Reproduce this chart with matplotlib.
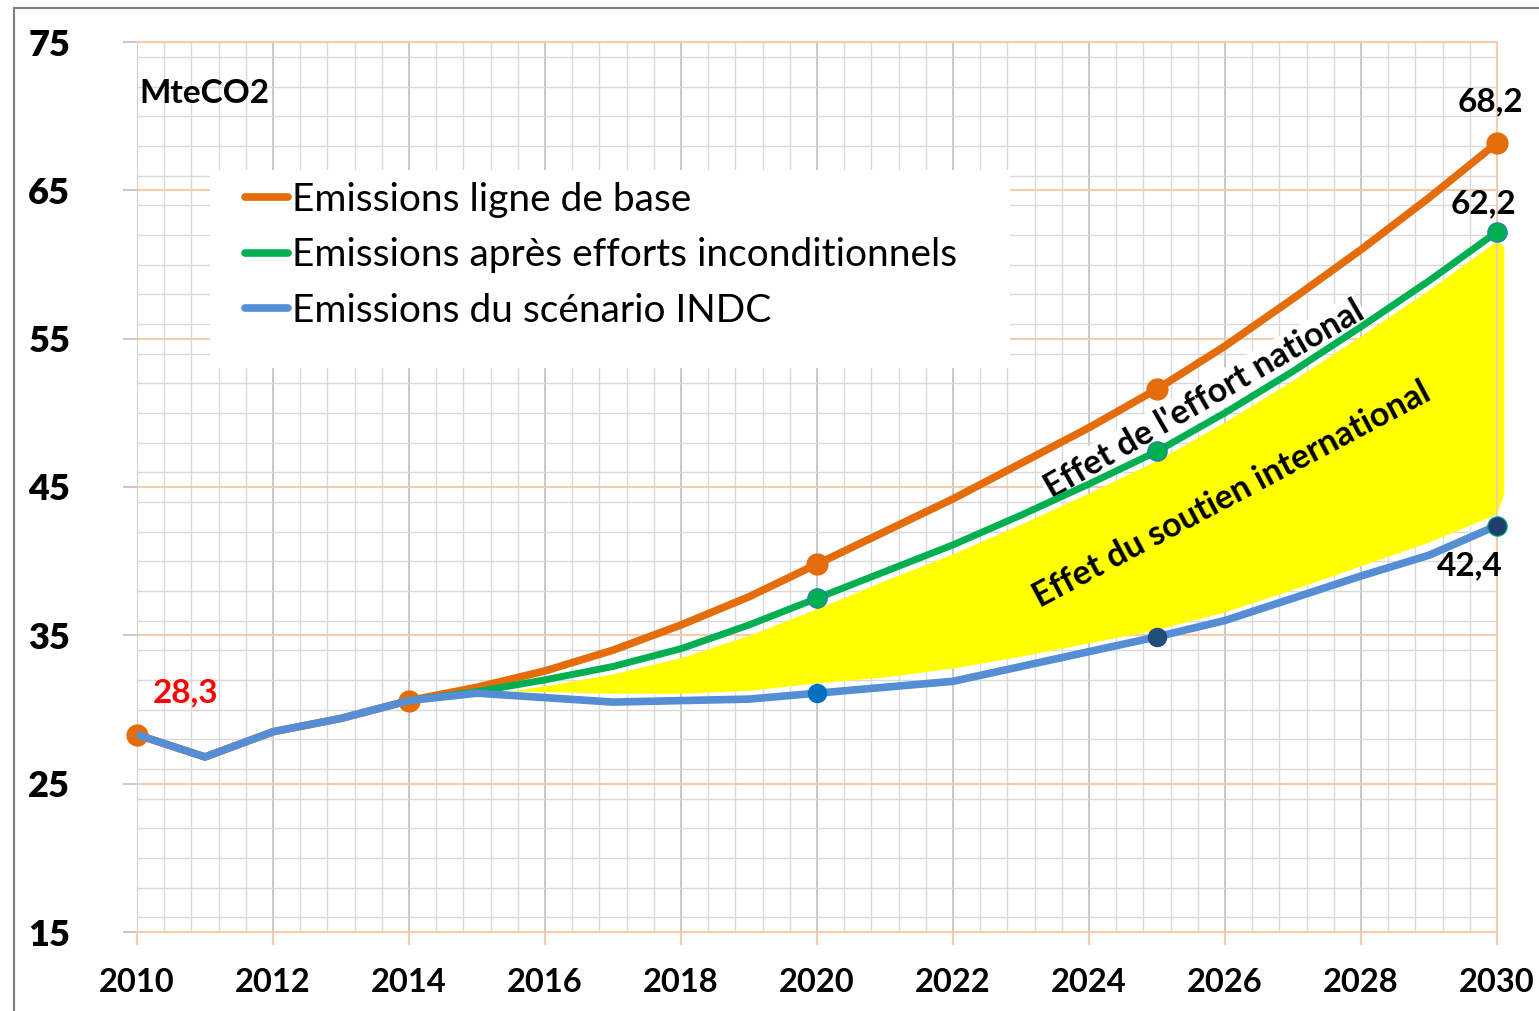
import numpy as np
import matplotlib.pyplot as plt
from matplotlib.lines import Line2D
from matplotlib.patches import Rectangle
from matplotlib.ticker import MultipleLocator

plt.rcParams['font.family'] = ['Lato', 'DejaVu Sans']
plt.rcParams['font.weight'] = 'bold'

# historical + INDC scenario (blue)
indc_years = np.arange(2010, 2031)
indc = [28.3, 26.8, 28.5, 29.4, 30.6, 31.1, 30.8, 30.5, 30.6, 30.7, 31.1,
        31.5, 31.9, 32.9, 33.9, 34.9, 36.0, 37.5, 39.0, 40.4, 42.4]

# baseline (orange) and unconditional (green), from 2014
proj_years = np.arange(2014, 2031)
base = [30.6, 31.5, 32.6, 34.0, 35.7, 37.6, 39.8, 42.0, 44.2, 46.6, 49.0,
        51.6, 54.5, 57.7, 61.0, 64.5, 68.2]
uncond = [30.6, 31.2, 32.0, 32.9, 34.1, 35.7, 37.5, 39.3, 41.1, 43.1, 45.2,
          47.4, 50.0, 52.8, 55.8, 58.9, 62.2]

# yellow area (international support)
fill_years = [2014, 2015, 2016, 2017, 2018, 2019, 2020, 2021, 2022, 2023, 2024,
              2025, 2026, 2027, 2028, 2029, 2030, 2030.1]
fill_top = [30.6, 30.9, 31.6, 32.4, 33.5, 35.0, 36.8, 38.7, 40.5, 42.5, 44.6,
            46.8, 49.4, 52.2, 55.2, 58.3, 61.6, 61.2]
fill_bot = [30.6, 31.3, 31.2, 31.1, 31.1, 31.3, 31.8, 32.2, 32.8, 33.6, 34.5,
            35.4, 36.6, 38.1, 39.7, 41.3, 43.2, 44.6]

base_hist = [28.3, 26.8, 28.5, 29.4]  # baseline before 2014 (under the blue line)

labels = ['Emissions ligne de base', 'Emissions après efforts inconditionnels',
          'Emissions du scénario INDC']

ORANGE = '#E46C0A'
GREEN = '#00B050'
BLUE = '#558ED5'
GRID_OR = '#F8CBAD'

fig = plt.figure(figsize=(15.39, 10.11), dpi=100)
ax = fig.add_axes([137/1539, 79/1011, 1360/1539, 890/1011])

ax.set_xlim(2010, 2030)
ax.set_ylim(15, 75)

ax.xaxis.set_major_locator(MultipleLocator(2))
ax.xaxis.set_minor_locator(MultipleLocator(0.4))
ax.yaxis.set_minor_locator(MultipleLocator(2))
ax.set_yticks(np.arange(15, 76, 10))

ax.grid(which='minor', color='#D9D9D9', lw=1.0)
ax.grid(which='major', axis='x', color='#BFBFBF', lw=1.2)
ax.grid(which='major', axis='y', color=GRID_OR, lw=1.5)
ax.set_axisbelow(True)

for s in ['top', 'right', 'bottom']:
    ax.spines[s].set_color(GRID_OR)
    ax.spines[s].set_linewidth(1.5)
ax.spines['left'].set_color('#D0D0D0')

ax.tick_params(axis='x', which='major', length=9, color=GRID_OR, width=1.5,
               pad=17, labelsize=23.5)
ax.tick_params(axis='y', which='major', length=10, color='#BFBFBF', width=1.2,
               pad=38, labelsize=26)
ax.tick_params(which='minor', length=0)

# yellow zone
ax.fill_between(fill_years, fill_bot, fill_top, color='#FFFF00', lw=0, zorder=2,
                clip_on=False)

# baseline
ax.plot(list(indc_years[:4]) + list(proj_years), base_hist + base, color=ORANGE,
        lw=5.5, solid_capstyle='round', solid_joinstyle='round', zorder=3)
ax.plot([2010, 2014, 2020, 2025, 2030], [28.3, base[0], base[6], base[11], base[16]],
        'o', color=ORANGE, ms=15, zorder=4, clip_on=False)

# unconditional
ax.plot(proj_years, uncond, color=GREEN, lw=5, solid_capstyle='round',
        solid_joinstyle='round', zorder=3)
ax.plot([2020, 2025, 2030], [uncond[6], uncond[11], uncond[16]], 'o', color=GREEN,
        mec='#2E75B6', mew=0.8, ms=14, zorder=6, clip_on=False)

# INDC
ax.plot(indc_years, indc, color=BLUE, lw=5.5, solid_capstyle='round',
        solid_joinstyle='round', zorder=5)
ax.plot([2020], [indc[10]], 'o', color='#0070C0', ms=13, zorder=6)
ax.plot([2025], [indc[15]], 'o', color='#1F4E79', ms=13, zorder=6)
ax.plot([2030], [indc[20]], 'o', color='#1F3F6E', mec='#00B08A', mew=0.8, ms=14,
        zorder=6, clip_on=False)

# labels
ax.text(2010.71, 31.1, '28,3', color='#FF0000', fontsize=24, ha='center', va='center')
ax.text(2029.9, 70.95, '68,2', fontsize=24, ha='center', va='center')
ax.text(2029.8, 64.1, '62,2', fontsize=24, ha='center', va='center')
ax.text(2029.6, 39.7, '42,4', fontsize=24, ha='center', va='center')
ax.text(2010.04, 71.5, 'MteCO2', fontsize=24, ha='left', va='center')

ax.text(2025.69, 50.9, "Effet de l'effort national", fontsize=24.5,
        rotation=30, rotation_mode='anchor', ha='center', va='center', zorder=2.5,
        bbox=dict(facecolor='white', edgecolor='none', pad=1))
ax.text(2026.1, 44.5, 'Effet du soutien international', fontsize=24.5,
        rotation=28, rotation_mode='anchor', ha='center', va='center', zorder=7)

# legend on a white box
ax.add_patch(Rectangle((0.0537, 0.6337), 0.5883, 0.2223, transform=ax.transAxes,
                       facecolor='white', edgecolor='none', zorder=7))
handles = [Line2D([], [], color=c, lw=5.5, solid_capstyle='round')
           for c in [ORANGE, GREEN, BLUE]]
leg = ax.legend(handles, labels, loc='upper left', bbox_to_anchor=(0.0794, 0.843),
                prop={'size': 28, 'weight': 'normal'}, frameon=False,
                handlelength=1.1, handletextpad=0.1, labelspacing=0.5,
                borderpad=0, borderaxespad=0)
leg.set_zorder(8)

# outer frame
fig.add_artist(Line2D([14/1539, 1], [1 - 8/1011, 1 - 8/1011], color='#7F7F7F', lw=1.5))
fig.add_artist(Line2D([14/1539, 14/1539], [0, 1 - 8/1011], color='#7F7F7F', lw=1.5))

fig.canvas.draw()
for t in ax.get_yticklabels():
    t.set_fontweight('heavy')

fig.savefig('out.png', dpi=100)
